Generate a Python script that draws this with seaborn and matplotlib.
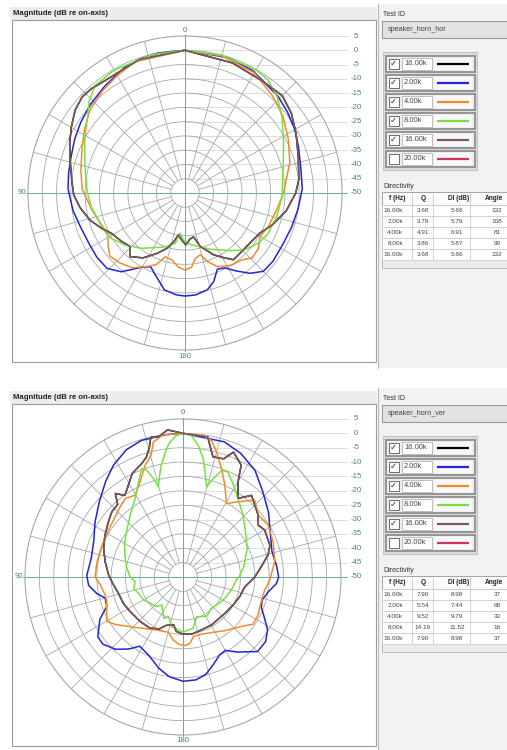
import numpy as np
import matplotlib
matplotlib.use("Agg")
import matplotlib.pyplot as plt
import seaborn as sns
from matplotlib.patches import Rectangle

sns.set_theme(style="white")
plt.rcParams["font.family"] = ["Liberation Sans", "DejaVu Sans"]

W, H = 507, 750

# ---------------- horizontal plane (speaker_horn_hor) ----------------
# angle in degrees (0 = on-axis, counter-clockwise towards the "90" side), level in dB re on-axis
hor_ang_2k = [0, 11, 18, 25, 37, 47, 56, 64, 72, 80, 88, 99, 108, 118, 126, 134, 141, 150, 155, 160,
              168, 175, 180, 186, 193, 198, 203, 208, 213, 219, 225, 232, 242, 252, 262, 272, 281, 292, 300, 308,
              316, 331, 342, 360]
hor_db_2k = [0, -0.1, -0.5, -1.0, -3.2, -4.6, -5.9, -7.0, -8.1, -8.6, -9.0, -10.3, -11.5, -12.0, -11.8, -12.0, -14.5, -20.0, -21.5, -19.5,
             -15.3, -14.2, -13.9, -14.1, -15.2, -17.4, -21.0, -20.3, -17.5, -13.8, -11.2, -11.0, -11.3, -10.8, -10.0, -8.9, -8.6, -7.1, -5.6, -4.3,
             -3.0, -1.0, -0.2, 0]

hor_ang_4k = [0, 21, 30, 39, 49, 58, 67, 78, 88, 100, 111, 118, 124, 130, 137, 145, 152, 158, 163, 169,
              175, 180, 185, 189, 194, 198, 204, 213, 220, 226, 233, 240, 248, 260, 270, 279, 286, 297, 308, 318,
              330, 345, 360]
hor_db_4k = [0, -0.8, -2.5, -4.0, -5.8, -8.4, -10.8, -12.7, -14.0, -16.8, -18.7, -19.4, -17.5, -15.6, -16.5, -18.0, -20.8, -22.9, -26.6, -26.1,
             -23.9, -23.0, -23.9, -26.8, -27.7, -24.8, -21.7, -19.9, -19.3, -17.3, -17.8, -19.6, -18.5, -17.3, -15.5, -13.9, -11.8, -9.3, -6.4, -4.2,
             -1.4, -0.3, 0]

hor_ang_8k = [0, 13, 30, 40, 46, 53, 62, 74, 84, 90, 99, 110, 120, 131, 142, 160, 169, 173, 178, 187,
              205, 219, 227, 236, 244, 256, 268, 274, 287, 298, 308, 316, 324, 330, 345, 360]
hor_db_8k = [0, -0.2, -0.3, -0.9, -3.4, -7.1, -10.2, -13.5, -15.2, -15.8, -16.9, -18.4, -19.1, -22.2, -25.4, -29.9, -32.0, -35.8, -33.5, -31.7,
             -28.2, -24.0, -21.0, -18.8, -17.6, -16.8, -15.9, -15.8, -14.0, -10.9, -6.9, -3.4, -0.8, -0.2, 0, 0]

hor_ang_16k = [0, 19, 32, 42, 47, 53, 60, 67, 75, 83, 91, 98, 106, 113, 119, 127, 134, 139, 147, 155,
               162, 167, 171, 176, 181, 186, 191, 196, 205, 210, 216, 222, 236, 242, 250, 260, 270, 277, 288, 298,
               307, 315, 325, 340, 360]
hor_db_16k = [0, -0.6, -1.8, -0.9, -0.7, -1.8, -4.0, -6.1, -8.4, -10.0, -11.0, -12.9, -15.4, -18.3, -20.7, -22.0, -23.1, -20.5, -22.9, -26.6,
              -29.6, -32.5, -35.1, -33.5, -31.8, -33.7, -34.4, -30.5, -26.1, -24.0, -21.1, -21.4, -21.0, -20.2, -17.4, -14.0, -11.2, -9.8, -8.3, -5.9,
              -3.4, -1.8, -2.3, -1.5, 0]

# ---------------- vertical plane (speaker_horn_ver) ----------------
ver_ang_2k = [0, 7, 17, 24, 32, 39, 48, 58, 68, 78, 89, 95, 101, 105, 111, 117, 125, 130, 137, 143,
              148, 157, 165, 172, 180, 187, 193, 199, 205, 210, 216, 225, 232, 238, 243, 249, 254, 260, 266, 270,
              277, 286, 297, 307, 317, 326, 335, 343, 360]
ver_db_2k = [0, -0.1, -0.3, -1.5, -4.2, -7.2, -10.8, -13.9, -16.5, -17.4, -16.5, -17.0, -19.5, -21.9, -21.6, -17.5, -13.8, -13.6, -15.6, -18.6,
             -21.6, -20.1, -17.2, -15.0, -13.7, -13.9, -15.1, -17.7, -20.0, -20.5, -17.7, -13.3, -13.5, -15.3, -18.1, -20.8, -21.3, -19.9, -17.4, -16.7,
             -17.2, -17.8, -15.9, -12.7, -9.3, -5.2, -2.5, -0.8, 0]

ver_ang_4k = [0, 8, 12.4, 14.7, 18.7, 24.3, 30.3, 36.4, 41.8, 48.4, 57.8, 68.5, 80, 90, 95.5, 103, 108, 120, 125, 136.5,
              152, 165, 171, 176, 182, 186, 190, 198, 218, 230, 236, 243, 249, 255, 261, 268, 279.5, 291.4, 301.4, 309.5,
              317, 324.5, 329.3, 335.5, 340.4, 345, 348.2, 352, 360]
ver_db_4k = [0, 0, -1.9, -6.2, -8.9, -13.7, -17.0, -16.1, -17.2, -18.4, -19.4, -19.7, -19.6, -19.4, -21.1, -22.2, -22.1, -19.3, -21.2, -25.8,
             -29.2, -30.1, -27.9, -26.6, -26.1, -26.8, -29.0, -29.1, -26.3, -23.3, -20.6, -20.7, -21.3, -21.5, -21.2, -19.8, -17.6, -16.3, -15.3, -16.1,
             -13.4, -17.9, -20.3, -14.9, -10.0, -5.0, -1.4, -0.3, 0]

ver_ang_8k = [0, 3, 6, 8, 11, 13, 15.3, 16.7, 18.8, 20.8, 25, 31.4, 40, 50, 60, 70, 80, 90, 95.6, 103,
              110, 120, 138, 143, 155, 160, 167, 180, 191, 199, 211, 222, 235, 246, 257, 267, 270, 280, 294, 306,
              316, 325, 331, 337, 340, 343, 345.3, 348.2, 350.3, 353.4, 356.5, 360]
ver_db_8k = [0, -0.8, -3.3, -6.0, -10.4, -13.7, -17.5, -14.2, -10.8, -9.6, -13.4, -18.0, -21.5, -24.5, -26.5, -28.5, -30.0, -31.6, -33.3, -32.3,
             -33.5, -34.1, -36.2, -37.8, -34.1, -35.3, -32.3, -30.8, -31.8, -35.4, -34.0, -35.3, -34.3, -33.4, -32.4, -31.4, -30.5, -28.5, -25.5, -23.1,
             -20.0, -16.6, -13.6, -10.2, -10.5, -14.2, -17.6, -12.6, -8.2, -3.9, -0.8, 0]

ver_ang_16k = [0, 6, 10, 13, 14.5, 17, 20, 26, 33, 35.5, 39, 42, 47.5, 53.5, 62, 70, 79, 88.5, 95, 104,
               114, 123, 136, 147, 155, 161, 169, 173, 180, 189, 199, 211, 229, 241, 251, 261, 270, 276, 284.5, 290,
               300, 304.5, 309.5, 320, 325, 330, 332.5, 338, 341, 346, 350, 360]
ver_db_16k = [0, 1.5, -0.5, -0.1, -3.3, -6.4, -8.0, -9.8, -14.0, -15.1, -12.6, -16.0, -16.4, -17.7, -19.2, -20.6, -22.4, -24.1, -25.4, -26.8,
              -27.3, -28.0, -28.5, -28.8, -30.0, -32.2, -33.0, -30.9, -30.1, -29.9, -30.5, -30.6, -30.7, -30.0, -29.1, -28.2, -25.0, -23.1, -19.4, -17.8,
              -17.2, -18.2, -16.1, -12.9, -16.6, -11.7, -6.1, -3.1, -6.5, -6.9, -0.5, 0]

# ---------------- legend / table content ----------------
freq_labels = ["16.00k", "2.00k", "4.00k", "8.00k", "16.00k", "20.00k"]
series_colors = ["#000000", "#2424d4", "#f28a2e", "#78e040", "#7a5a5a", "#d23457"]
series_checked = [True, True, True, True, True, False]

dir_header = ["f (Hz)", "Q", "DI (dB)", "Angle"]
hor_dir_rows = [["16.00k", "3.68", "5.66", "132"],
                ["2.00k", "3.79", "5.79", "108"],
                ["4.00k", "4.91", "6.91", "81"],
                ["8.00k", "3.86", "5.87", "99"],
                ["16.00k", "3.68", "5.66", "132"]]
ver_dir_rows = [["16.00k", "7.90", "8.98", "37"],
                ["2.00k", "5.54", "7.44", "68"],
                ["4.00k", "9.52", "9.79", "33"],
                ["8.00k", "14.19", "11.52", "16"],
                ["16.00k", "7.90", "8.98", "37"]]

ring_levels = [5, 0, -5, -10, -15, -20, -25, -30, -35, -40, -45, -50]

GRID = "#a2a9ab"
AXIS = "#6aa4ae"
LABEL = "#4d7e88"

fig = plt.figure(figsize=(W / 100, H / 100), dpi=100)
fig.patch.set_facecolor("white")
ui = fig.add_axes([0, 0, 1, 1], zorder=0)
ui.set_xlim(0, W)
ui.set_ylim(H, 0)
ui.axis("off")


def draw_panel(top, cx, cy, rad, test_id, series, rows):
    # header strip and plot frame
    ui.add_patch(Rectangle((10, top + 7), 367, 13, fc="#ececec", ec="none"))
    ui.text(13, top + 13.5, "Magnitude (dB re on-axis)", fontsize=5.6, fontweight="bold",
            ha="left", va="center", color="#222222")
    ui.add_patch(Rectangle((12, top + 20), 364, 342, fc="white", ec="#9c9c9c", lw=0.8))

    # level guide lines and labels on the right
    for lev in ring_levels:
        y = cy - (lev + 50) / 55 * rad
        if lev != -50:
            ui.plot([cx, 347], [y, y], color="#d8d8d8", lw=0.6, zorder=1)
        ui.text(356, y, f"{lev}", fontsize=5.6, ha="center", va="center", color=LABEL)
    ui.plot([cx - rad - 2, 347], [cy, cy], color=AXIS, lw=0.7, zorder=1)
    ui.plot([cx, cx], [cy - rad - 1, cy + rad + 1], color=AXIS, lw=0.7, zorder=1)
    ui.text(cx, cy - rad - 6, "0", fontsize=5.6, ha="center", va="center", color=LABEL)
    ui.text(cx, cy + rad + 6, "180", fontsize=5.6, ha="center", va="center", color=LABEL)
    ui.text(cx - rad - 6, cy, "90", fontsize=5.6, ha="center", va="center", color=LABEL)

    # polar chart
    ax = fig.add_axes([(cx - rad) / W, 1 - (cy + rad) / H, 2 * rad / W, 2 * rad / H],
                      projection="polar", zorder=2)
    ax.set_theta_zero_location("N")
    ax.set_theta_direction(1)
    ax.patch.set_alpha(0)
    ax.grid(False)
    th = np.linspace(0, 2 * np.pi, 721)
    for lev in ring_levels[1:-1]:
        ax.plot(th, np.full_like(th, lev), color=GRID, lw=0.6, zorder=1)
    for a in range(0, 360, 15):
        if a % 90 == 0:
            continue
        ax.plot([np.deg2rad(a)] * 2, [-45, 5], color=GRID, lw=0.6, zorder=1)
    for (ang, db), color in zip(series, series_colors):
        sns.lineplot(x=np.deg2rad(ang), y=db, ax=ax, sort=False, estimator=None,
                     color=color, lw=1.1, zorder=3, legend=False)
    ax.set_ylim(-50, 5)
    ax.set_xticks([])
    ax.set_yticks([])
    ax.set_xlabel("")
    ax.set_ylabel("")
    ax.spines["polar"].set_color(GRID)
    ax.spines["polar"].set_linewidth(0.8)

    # right side panel
    ui.add_patch(Rectangle((378, top + 4), 130, 364, fc="#f2f2f2", ec="none"))
    ui.plot([378, 378], [top + 4, top + 368], color="#b8b8b8", lw=0.8)
    ui.text(383, top + 14, "Test ID", fontsize=5.0, ha="left", va="center", color="#333333")
    ui.add_patch(Rectangle((382, top + 21), 126, 17, fc="#e2e2e2", ec="#9a9a9a", lw=0.8))
    ui.text(388, top + 29.5, test_id, fontsize=5.2, ha="left", va="center", color="#444444")

    ui.add_patch(Rectangle((383, top + 52), 94, 118, fc="#dcdcdc", ec="#c4c4c4", lw=0.8))
    for i, (lab, col, chk) in enumerate(zip(freq_labels, series_colors, series_checked)):
        yc = top + 63.5 + 19 * i
        ui.add_patch(Rectangle((385.5, yc - 8), 89.5, 16, fc="#eeeeee", ec="#8e8e8e", lw=1.3))
        ui.add_patch(Rectangle((388.5, yc - 5), 10, 10, fc="white", ec="#6a6a6a", lw=0.7))
        if chk:
            ui.text(393.5, yc + 0.3, "\u2713", fontsize=6, ha="center", va="center",
                    family="DejaVu Sans", fontweight="bold", color="#222222")
        ui.add_patch(Rectangle((402, yc - 6), 30, 12, fc="white", ec="#b4b4b4", lw=0.6))
        ui.text(404, yc, lab, fontsize=5.4, ha="left", va="center", color="#444444")
        ui.add_patch(Rectangle((434, yc - 6), 38, 12, fc="#f8f8f8", ec="none"))
        ui.plot([437, 469], [yc, yc], color=col, lw=1.6, solid_capstyle="butt")

    # directivity table
    ui.text(383, top + 187, "Directivity", fontsize=5.0, ha="left", va="center", color="#333333")
    ui.add_patch(Rectangle((382, top + 192), 126, 76, fc="#ebebeb", ec="#b4b4b4", lw=0.6))
    edges = [382, 412, 433, 470, 508]
    hy = top + 192
    hh, rh = 13, 11
    ui.add_patch(Rectangle((382, hy), 126, hh, fc="#fbfbfb", ec="#9c9c9c", lw=0.6))
    head_x = [397, 423, 459, 494]
    for j, name in enumerate(dir_header):
        ui.text(head_x[j], hy + hh / 2, name, fontsize=4.7, fontweight="bold",
                ha="center", va="center", color="#222222")
    for i, row in enumerate(rows):
        y0 = hy + hh + i * rh
        ui.add_patch(Rectangle((382, y0), 126, rh, fc="white", ec="#c8c8c8", lw=0.5))
        ui.text(403, y0 + rh / 2, row[0], fontsize=4.6, ha="right", va="center", color="#444444")
        ui.text(423, y0 + rh / 2, row[1], fontsize=4.6, ha="center", va="center", color="#444444")
        ui.text(457, y0 + rh / 2, row[2], fontsize=4.6, ha="center", va="center", color="#444444")
        ui.text(497, y0 + rh / 2, row[3], fontsize=4.6, ha="center", va="center", color="#444444")
    y_end = hy + hh + len(rows) * rh
    for x in edges[1:-1]:
        ui.plot([x, x], [hy, y_end], color="#c0c0c0", lw=0.5)


hor_series = [(hor_ang_16k, hor_db_16k), (hor_ang_2k, hor_db_2k), (hor_ang_4k, hor_db_4k),
              (hor_ang_8k, hor_db_8k), (hor_ang_16k, hor_db_16k)]
ver_series = [(ver_ang_16k, ver_db_16k), (ver_ang_2k, ver_db_2k), (ver_ang_4k, ver_db_4k),
              (ver_ang_8k, ver_db_8k), (ver_ang_16k, ver_db_16k)]

draw_panel(0, 185, 193, 157, "speaker_horn_hor", hor_series, hor_dir_rows)
draw_panel(384, 183, 577, 158, "speaker_horn_ver", ver_series, ver_dir_rows)

fig.savefig("out.png", dpi=100, facecolor="white")
